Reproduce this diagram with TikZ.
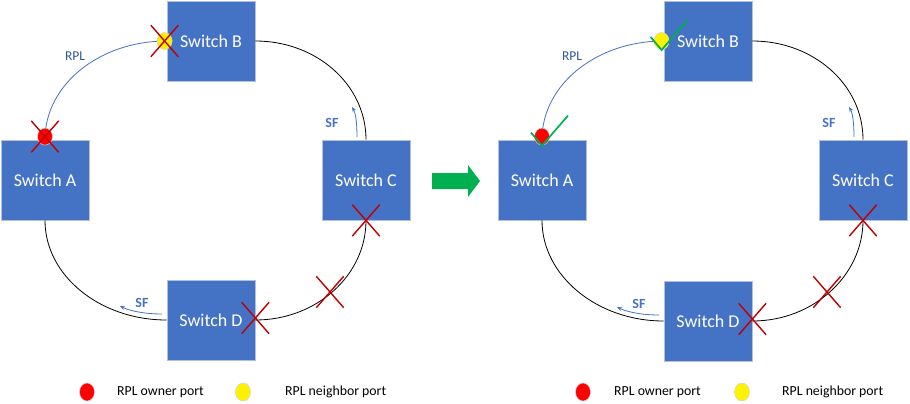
\documentclass[tikz,border=0pt]{standalone}
\usepackage{fontspec}
\setmainfont{Carlito}
\usetikzlibrary{shapes.misc,shapes.geometric,arrows.meta,calc}
\definecolor{swblue}{HTML}{4472C4}
\definecolor{swedge}{HTML}{B4C0D8}
\definecolor{rpltext}{HTML}{2F5597}
\definecolor{xred}{HTML}{C00000}
\definecolor{okgreen}{HTML}{00B050}
\tikzset{
  sw/.style={rectangle, fill=swblue, draw=swedge, line width=0.8pt, minimum width=88pt, minimum height=80pt, inner sep=0pt, text=white, font=\fontsize{18}{20}\selectfont},
  ring/.style={draw=black, line width=0.8pt},
  rplline/.style={draw=swblue, line width=0.8pt},
  xmark/.style={cross out, draw=xred, line width=1.4pt, minimum width=26pt, minimum height=30pt, inner sep=0pt},
  portdot/.style={ellipse, draw=gray!35, line width=0.5pt, minimum width=15pt, minimum height=17pt, inner sep=0pt},
  reddot/.style={portdot, fill=red},
  yellowdot/.style={portdot, fill=yellow},
  sflab/.style={text=swblue, font=\bfseries\fontsize{14}{16}\selectfont},
  rpllab/.style={text=rpltext, font=\fontsize{13.5}{16}\selectfont},
  sfarrow/.style={draw=swblue, line width=0.8pt, -{Stealth[length=5pt,width=4pt]}},
  leg/.style={anchor=west, inner sep=0pt, font=\fontsize{13.8}{16}\selectfont},
  okmark/.pic={\draw[okgreen, line width=1.7pt, line join=miter] (-11,-4) -- (0,9) -- (26,-21);}
}
\begin{document}
\begin{tikzpicture}[x=1pt,y=-1pt]
\useasboundingbox (0,0) rectangle (910,404);
% ---------------- left half ----------------
\node[sw] (A) at (45,180) {Switch A};
\node[sw] (B) at (211,41) {Switch B};
\node[sw] (C) at (366,180) {Switch C};
\node[sw] (D) at (211,320) {Switch D};
\draw[rplline] (A.north) .. controls +(0,-55) and +(-67,0) .. (B.west);
\draw[ring] (B.east) .. controls +(61,0) and +(0,-55) .. (C.north);
\draw[ring] (C.south) .. controls +(0,55) and +(61,0) .. (D.east);
\draw[ring] (D.west) .. controls +(-67,0) and +(0,55) .. (A.south);
\node[rpllab] (rpl1) at (75,56) {RPL};
\node[reddot] (ra) at ($(A.north)+(0,-3)$) {};
\node[yellowdot] (yb) at ($(B.west)+(-2,0)$) {};
\node[xmark] (xa) at (ra) {};
\node[xmark] (xb) at (yb) {};
\node[xmark] (xc) at (C.south) {};
\node[xmark] (xcd) at (330,292) {};
\node[xmark] (xd) at ($(D.east)+(0,-2)$) {};
\node[sflab] (sfc) at (332,123) {SF};
\coordinate (sfc1) at (357,137);
\coordinate (sfc2) at (352,107);
\draw[sfarrow] (sfc1) .. controls +(0,-17) and +(3,5) .. (sfc2);
\node[sflab] (sfd) at (142,303) {SF};
\coordinate (sfd1) at (162,314);
\coordinate (sfd2) at (120,306);
\draw[sfarrow] (sfd1) .. controls +(-17,0) and +(10,5) .. (sfd2);
\node[reddot, minimum height=18pt] (lr1) at (87,392) {};
\node[leg] (lt1) at (117,392) {RPL owner port};
\node[yellowdot, minimum height=18pt] (ly1) at (243,392) {};
\node[leg] (lt2) at (285,392) {RPL neighbor port};
% ---------------- transition arrow ----------------
\fill[okgreen] (432,173) -- (468,173) -- (468,165) -- (480,181) -- (468,197) -- (468,189) -- (432,189) -- cycle;
% ---------------- right half ----------------
\node[sw] (A2) at (542,180) {Switch A};
\node[sw] (B2) at (708,41) {Switch B};
\node[sw] (C2) at (863,180) {Switch C};
\node[sw] (D2) at (708,321) {Switch D};
\draw[rplline] (A2.north) .. controls +(0,-55) and +(-67,0) .. (B2.west);
\draw[ring] (B2.east) .. controls +(61,0) and +(0,-55) .. (C2.north);
\draw[ring] (C2.south) .. controls +(0,55) and +(61,0) .. (D2.east);
\draw[ring] (D2.west) .. controls +(-67,0) and +(0,55) .. (A2.south);
\node[rpllab] (rpl2) at (572,56) {RPL};
\node[reddot] (ra2) at ($(A2.north)+(0,-3)$) {};
\node[yellowdot] (yb2) at ($(B2.west)+(-2,0)$) {};
\pic at (ra2) {okmark};
\pic at (yb2) {okmark};
\node[xmark] (xc2) at (C2.south) {};
\node[xmark] (xcd2) at (827,292) {};
\node[xmark] (xd2) at ($(D2.east)+(0,-2)$) {};
\node[sflab] (sfc2l) at (829,123) {SF};
\coordinate (sfe1) at (854,137);
\coordinate (sfe2) at (849,107);
\draw[sfarrow] (sfe1) .. controls +(0,-17) and +(3,5) .. (sfe2);
\node[sflab] (sfd2l) at (639,304) {SF};
\coordinate (sff1) at (659,315);
\coordinate (sff2) at (617,307);
\draw[sfarrow] (sff1) .. controls +(-17,0) and +(10,5) .. (sff2);
\node[reddot, minimum height=18pt] (lr2) at (583,392) {};
\node[leg] (lt3) at (614,392) {RPL owner port};
\node[yellowdot, minimum height=18pt] (ly2) at (742,392) {};
\node[leg] (lt4) at (782,392) {RPL neighbor port};
\end{tikzpicture}
\end{document}
